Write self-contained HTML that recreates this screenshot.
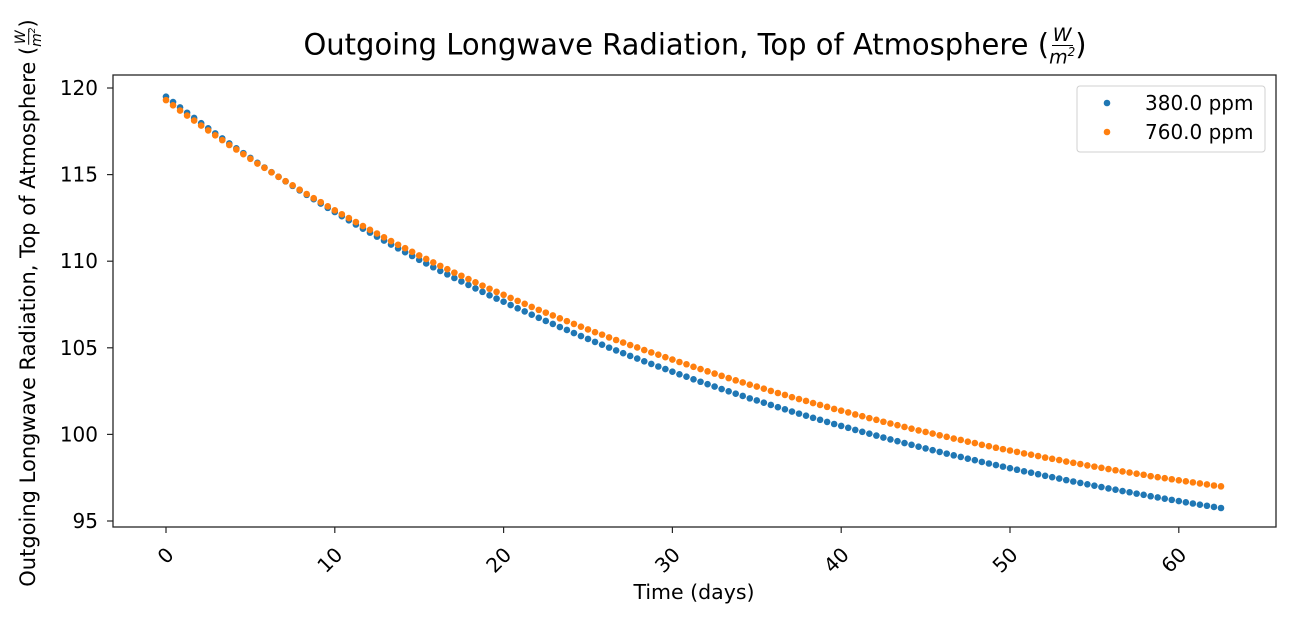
<!DOCTYPE html>
<html><head><meta charset="utf-8">
<style>
body{margin:0;background:#fff;width:1290px;height:619px;overflow:hidden;position:relative;font-family:"DejaVu Sans","Liberation Sans",sans-serif;}
.abs{position:absolute;white-space:nowrap;color:#000;}
.frac{display:inline-flex;flex-direction:column;align-items:center;vertical-align:middle;font-style:italic;line-height:1;}
.frac .n{border-bottom:1px solid #000;padding:0 1px;}
</style></head><body>
<div class="abs" style="left:0;width:1390px;text-align:center;top:26px;font-size:29px;">Outgoing Longwave Radiation, Top of Atmosphere (<span class="frac" style="font-size:19px;"><span class="n">W</span><span>m<sup style="font-size:12px">2</sup></span></span>)</div>
<div class="abs" style="left:29px;top:303px;font-size:21px;transform:translate(-50%,-50%) rotate(-90deg);">Outgoing Longwave Radiation, Top of Atmosphere (<span class="frac" style="font-size:14px;"><span class="n">W</span><span>m<sup style="font-size:9px">2</sup></span></span>)</div>
<div class="abs" style="left:694px;top:580px;font-size:20.5px;transform:translateX(-50%);">Time (days)</div>
<svg id="chart" width="1290" height="619" style="position:absolute;left:0;top:0"></svg>
<script>
const blue=[119.50,119.19,118.88,118.57,118.27,117.97,117.67,117.38,117.09,116.80,116.52,116.24,
115.96,115.68,115.41,115.14,114.87,114.61,114.35,114.09,113.83,113.58,113.33,113.08,
112.84,112.60,112.36,112.12,111.88,111.65,111.42,111.19,110.96,110.74,110.52,110.30,
110.08,109.87,109.65,109.44,109.24,109.03,108.83,108.63,108.43,108.23,108.03,107.84,
107.66,107.47,107.28,107.10,106.91,106.73,106.55,106.38,106.20,106.03,105.85,105.68,
105.51,105.34,105.18,105.01,104.85,104.69,104.53,104.38,104.22,104.07,103.92,103.77,
103.62,103.47,103.33,103.18,103.04,102.90,102.76,102.62,102.49,102.35,102.22,102.08,
101.96,101.83,101.70,101.57,101.45,101.32,101.20,101.08,100.96,100.84,100.72,100.60,
100.49,100.38,100.26,100.15,100.04,99.93,99.82,99.71,99.61,99.50,99.40,99.29,
99.19,99.09,98.99,98.89,98.79,98.70,98.60,98.51,98.41,98.32,98.23,98.14,
98.05,97.96,97.87,97.79,97.70,97.61,97.53,97.45,97.36,97.28,97.20,97.12,
97.04,96.96,96.88,96.81,96.73,96.66,96.58,96.51,96.43,96.36,96.29,96.22,
96.15,96.08,96.01,95.94,95.88,95.81,95.75];
const orange=[119.30,119.00,118.70,118.41,118.12,117.83,117.55,117.27,116.99,116.71,116.45,116.18,
115.91,115.64,115.39,115.13,114.87,114.62,114.38,114.13,113.88,113.64,113.41,113.17,
112.94,112.71,112.49,112.26,112.03,111.81,111.60,111.38,111.16,110.95,110.75,110.54,
110.33,110.13,109.93,109.73,109.54,109.34,109.16,108.97,108.78,108.59,108.41,108.23,
108.06,107.88,107.71,107.54,107.36,107.19,107.03,106.87,106.70,106.54,106.38,106.22,
106.06,105.90,105.76,105.60,105.45,105.30,105.16,105.02,104.87,104.73,104.60,104.46,
104.32,104.18,104.05,103.90,103.77,103.64,103.51,103.38,103.25,103.12,103.00,102.87,
102.76,102.64,102.51,102.39,102.28,102.15,102.04,101.93,101.81,101.70,101.59,101.47,
101.37,101.27,101.15,101.05,100.94,100.84,100.73,100.63,100.53,100.43,100.33,100.23,
100.14,100.05,99.95,99.86,99.76,99.68,99.58,99.50,99.40,99.32,99.23,99.15,
99.07,98.99,98.90,98.83,98.75,98.66,98.59,98.52,98.43,98.36,98.29,98.21,
98.14,98.07,98.00,97.93,97.86,97.80,97.73,97.67,97.59,97.53,97.47,97.41,
97.35,97.29,97.23,97.17,97.11,97.05,97.00];
const timeStepDays=62.5/150;
const xTicks=[0,10,20,30,40,50,60];
const yTicks=[95,100,105,110,115,120];
const seriesNames=["380.0 ppm","760.0 ppm"];
const colors=["#1f77b4","#ff7f0e"];

const L=113,R=1276,T=75,B=527;
const xs=d=>166+d*16.88;
const ys=v=>88+(120-v)*17.32;
const NS="http://www.w3.org/2000/svg";
const svg=document.getElementById('chart');
const FONT='DejaVu Sans, Liberation Sans, sans-serif';
function mk(tag,attrs,parent){const e=document.createElementNS(NS,tag);for(const k in attrs)e.setAttribute(k,attrs[k]);(parent||svg).appendChild(e);return e;}

[blue,orange].forEach((arr,si)=>{
  const g=mk('g',{});
  
  
  arr.forEach((v,i)=>{
    const c=mk('circle',{cx:xs(i*timeStepDays),cy:ys(v),r:3.3,fill:colors[si]},g);
    
    
  });
});

const frame=mk('rect',{x:L,y:T,width:R-L,height:B-T,fill:'none',stroke:'#262626','stroke-width':1.3});



xTicks.forEach(t=>{
  const x=xs(t);
  const tk=mk('line',{x1:x,x2:x,y1:B,y2:B+6,stroke:'#262626','stroke-width':1.2});
  
  
  const ax=x+9, ay=B+29;
  const tx=mk('text',{x:ax,y:ay,'font-size':20,'text-anchor':'end','font-family':FONT,transform:`rotate(-45 ${ax} ${ay})`});
  tx.textContent=t;
  
  
});
yTicks.forEach(t=>{
  const y=ys(t);
  const tk=mk('line',{x1:L-6,x2:L,y1:y,y2:y,stroke:'#262626','stroke-width':1.2});
  
  
  const tx=mk('text',{x:L-15,y:y+7,'font-size':20,'text-anchor':'end','font-family':FONT});
  tx.textContent=t;
  
  
});

const lg=mk('g',{});


mk('rect',{x:1077,y:86,width:188,height:66,rx:3,fill:'#fff',stroke:'#d0d0d0','stroke-width':1},lg);
seriesNames.forEach((n,i)=>{
  const y=103+i*29;
  const e=mk('g',{},lg);
  
  
  mk('circle',{cx:1107,cy:y,r:3.3,fill:colors[i]},e);
  const t=mk('text',{x:1145,y:y+7,'font-size':20,'font-family':FONT},e);
  t.textContent=n;
});
</script>
</body></html>
